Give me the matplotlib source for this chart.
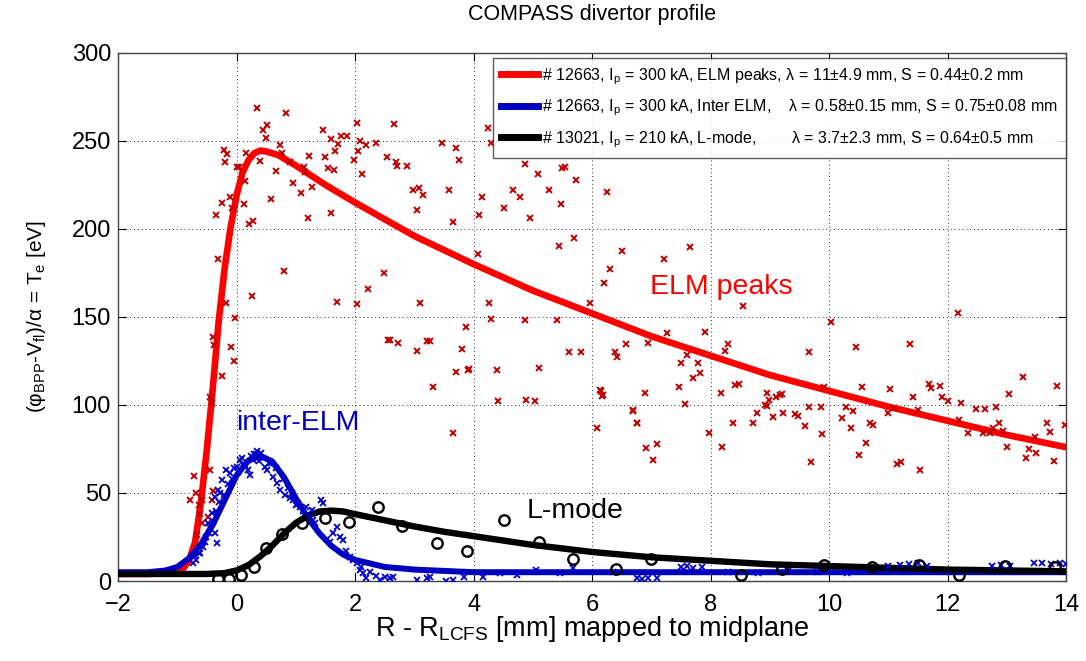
import matplotlib
matplotlib.use("Agg")
import matplotlib.pyplot as plt
import numpy as np

plt.rcParams['font.family'] = ['Liberation Sans', 'DejaVu Sans']
plt.rcParams['mathtext.default'] = 'regular'

# ---- fitted curves ----
red_x = [-2, -1.5, -1.0, -0.9, -0.8, -0.7, -0.6, -0.5, -0.4, -0.3, -0.2, -0.1, 0.0, 0.1, 0.2, 0.3,
         0.4, 0.5, 0.7, 1.0, 1.5, 2, 3, 4, 5, 6, 7, 8, 9, 10, 11, 12, 13, 14]
red_y = [4, 4, 5, 7, 12, 22, 45, 75, 110, 148, 178, 201, 219, 232, 239, 243,
         244.5, 244, 242, 236, 225, 215, 196, 180, 165, 152, 139, 128, 117, 108, 99, 91, 83, 76]

blue_x = [-2, -1.5, -1.2, -1.0, -0.8, -0.6, -0.4, -0.2, 0.0, 0.2, 0.4, 0.6, 0.8, 1.0, 1.2, 1.4,
          1.6, 1.8, 2.0, 2.5, 3.0, 4.0, 6.0, 8.0, 10.0, 12.0, 14.0]
blue_y = [5, 5, 6, 8, 13, 21, 32, 46, 60, 68.5, 71, 68, 59, 47, 36, 27,
          20, 15, 12, 8, 6.5, 5, 5, 5, 5, 5, 5]

black_x = [-2, -0.5, -0.2, 0.0, 0.2, 0.4, 0.6, 0.8, 1.0, 1.2, 1.4, 1.6, 1.8, 2.0, 2.5, 3.0,
           3.5, 4.0, 5.0, 6.0, 7.0, 8.0, 9.0, 10.0, 11.0, 12.0, 13.0, 14.0]
black_y = [4, 4, 4.5, 6, 9, 14, 20, 27, 33, 37, 39.5, 40, 39.5, 38, 34.5, 31,
           28, 25.5, 20.5, 16.5, 13.5, 11.5, 9.5, 8.5, 7.5, 6.5, 6, 5.5]

# ---- measured points ----
elm_x = [0.34, 0.83, 0.52, 0.45, 0.49, -0.21, -0.16, -0.20, 0.16, 0.00, 0.04, 0.40, 0.74, 0.77, 0.66,
         0.90, 0.15, -0.11, -0.25, -0.35, -0.08, 0.12, 0.21, 0.27, 0.58, 0.96, 1.09, 1.14, 1.16, 1.22,
         1.28, 1.20, 1.46, 1.59, 1.49, 1.55, 1.64, 1.66, 1.72, 1.77, 1.86, 1.60, 2.04, 2.09, 2.18,
         2.36, 2.05, 1.99, 2.12, 2.65, 2.54, 2.69, 2.70, 2.87, 2.98, 3.08, 3.15, 3.05, 3.47, 3.70,
         3.75, 3.59, 3.65, 4.25, 4.30, 4.15, 4.09, 4.07, 4.87, 5.09, 5.49, 5.54, 5.73, 5.28, 5.47,
         4.67, 4.79, 4.51, 4.95, 5.69, 5.44, 5.97, 4.26, 4.30, 4.86, 5.40, 5.61, 5.81, 5.11, 4.39,
         3.91, 3.93, 3.70, 3.81, 3.88, 3.10, 3.05, 3.22, 3.26, 2.72, 2.55, 2.59, 2.49, 2.21, 2.04,
         1.70, 0.80, 0.26, -0.03, -0.32, -0.17, -0.40, -0.38, -0.10, -0.05, -0.24,
         3.31, 3.66, 4.42, 4.89, 5.04, 6.15, 6.17, 6.09, 6.69, 6.75, -0.45, -0.42, -0.72, -0.45,
         -0.79, -0.68, -0.59, -0.63, -0.40, -0.42, -0.62, -0.59, -0.66, -0.48,
         6.26, 6.51, 6.31, 6.20, 7.22, 7.65, 8.54, 7.27, 7.91, 6.57, 6.95, 6.39, 6.42, 6.13, 6.18,
         6.89, 7.50, 7.60, 7.79, 7.82, 7.71, 7.47, 7.56, 6.69, 6.75, 6.91, 7.09, 7.03, 7.97, 8.30,
         8.25, 8.17, 8.41, 8.48, 8.20, 8.37, 8.95, 8.99, 9.10, 9.17, 9.20, 8.91, 8.95, 8.78, 8.72,
         9.06, 9.23, 9.42, 9.48, 9.60, 9.66, 9.66, 9.86, 9.70, 9.88, 9.91, 10.03, 10.22, 10.28,
         10.37, 10.41, 10.46, 10.56, 10.62, 10.51, 10.69, 10.74, 11.03, 11.00, 11.09, 11.15, 11.21,
         11.36, 11.41, 11.50, 11.54, 11.69, 11.72, 11.87, 11.91, 12.01, 12.17, 12.22, 12.20, 12.35,
         12.48, 12.63, 12.60, 12.71, 12.81, 12.87, 12.77, 12.94, 13.00, 13.04, 13.28, 13.33, 13.38,
         13.50, 13.47, 13.67, 13.72, 13.80, 13.84, 13.98]
elm_y = [268.5, 266, 259, 256, 251.5, 245, 242.6, 238, 243, 235, 235, 238.8, 247.7, 243, 233,
         238, 227, 218, 215, 208, 212, 214, 203, 204.5, 217, 226, 220.6, 235, 232.6, 241.5,
         224, 206, 256, 251, 241, 234.5, 233.5, 244.5, 248, 253, 253, 209, 260, 250, 247.7,
         249, 244, 239, 231, 259.5, 241, 238, 236, 236, 222, 223, 219, 211, 248.7, 246,
         239, 222, 204, 257.6, 249, 218, 208, 185.6, 237, 231, 234.5, 235, 228, 222, 214,
         222, 218, 211.7, 206, 195, 190.5, 158, 157.8, 148.9, 148.3, 148.3, 130, 130, 120.8, 120,
         120, 120.5, 118.6, 131.6, 144.5, 157.8, 130.7, 136.6, 136.6, 135, 137, 137, 175, 165.7, 157.4,
         158.3, 176, 162, 149.6, 182.8, 158, 138.4, 134, 132.8, 125, 116.7,
         110, 84, 102, 103, 102.5, 108, 105, 87, 96.8, 89.6, 104.7, 101, 59.7, 63,
         46, 50, 46, 43, 51, 46, 38, 33, 26, 36.5,
         221, 187.5, 177, 169.5, 183, 190, 156, 141, 141.7, 134.7, 135.4, 130, 127, 108.5, 105.7,
         107, 124, 128.4, 123.7, 118, 115.5, 110.4, 100.4, 97.2, 89.6, 75.4, 77.7, 69, 84.3, 134.5,
         130.7, 107, 111.4, 111.7, 76, 89.6, 107, 103, 104.7, 105.7, 106, 100, 99.4, 95.6, 90,
         93.4, 95.3, 94.7, 94, 88, 130, 99, 99, 67.4, 83.5, 110, 147, 92.4, 99,
         87, 96.6, 133, 110, 78.6, 71.4, 90, 88.6, 109, 95.3, 98, 66.5, 67.4,
         134.5, 104.5, 97, 63, 112, 109.5, 111, 104.7, 102, 152, 101, 91.5, 84,
         97.5, 97.5, 84, 84, 99, 90, 87, 85, 76, 106, 116, 70, 75,
         72.5, 81.6, 90, 84.7, 68, 111, 88.4]

inter_x = [0.34, 0.06, 0.11, 0.20, -0.17, -0.11, -0.25, -0.31, -0.37, -0.42, -0.48, -0.51, -0.37,
           -0.33, -0.56, -0.62, -0.68, 0.23, 0.48, 0.51, 0.62, 0.68, 0.73, 0.82, 0.96, 1.07, 1.18,
           1.27, 1.29, 1.43, 1.46, 1.69, 1.63, 1.74, 1.80, 1.91, 2.03, 2.08, 2.14, 2.19, 2.42, 2.59,
           2.64, 3.04, 3.21, 3.26, 3.54, 3.66, 3.83, 4.16, 4.44, 4.73, 5.06, 5.46, 5.68, 6.36,
           0.00, 0.10, 0.30, 0.45, 0.55, -0.05, 0.38, 0.28, -0.45, -0.28, 0.90, 1.00,
           -0.74, -0.70, -0.64, -0.58, -0.54, -0.46, -0.40, -0.35, -0.29, -0.22, -0.15, -0.08,
           0.02, 0.15, 0.25, 0.32, 0.42, 0.58, 0.66, 0.78, 0.86, 0.94, 1.03, 1.12, 1.22, 1.33,
           1.52, 1.58, 1.85, 1.97, 2.10, 2.25, 2.35, 2.50,
           6.75, 6.85, 6.95, 7.10, 7.50, 7.60, 7.70, 7.85, 8.30, 8.80, 9.30, 9.80, 10.30,
           11.00, 11.20, 11.35, 11.50, 11.65, 12.75, 12.90, 13.05, 13.45, 13.60, 13.75, 13.90, 14.00]
inter_y = [74.1, 68.8, 65.9, 63.1, 63.1, 61.2, 57.4, 51.7, 47.9, 38.4, 32.8, 25.2, 27.1,
           21.8, 19.5, 15.7, 11.9, 60.2, 65, 63.1, 59.3, 55.5, 51.7, 48.9, 46, 42.2, 42.2,
           40.3, 34.7, 46, 44.1, 30.9, 27.1, 25.2, 23.3, 13.8, 10, 6.25, 4.4, 1.5, 0.6, 1.5,
           2.1, 0.6, 1.5, 2.1, 0.0, 0.6, 2.5, 2.5, 4.4, 3.4, 6.25, 4.4, 7.2, 5.3,
           65, 70, 72, 70, 67, 64, 68, 69, 30, 50, 47, 43,
           10, 14, 16, 20, 22, 27, 34, 40, 45, 49, 55, 58,
           62, 66, 71, 72, 73, 67, 64, 58, 53, 50, 44, 40, 37, 33,
           24, 22, 17, 12, 8, 5, 3, 2,
           1.5, 1.2, 1.8, 1.5, 7.8, 8.3, 7.5, 8.0, 5.0, 4.5, 5.5, 5.0, 4.8,
           8.5, 9.0, 9.5, 10.0, 8.8, 8.5, 9.3, 8.8, 10.0, 10.5, 9.5, 10.5, 9.8]

lmode_x = [-0.31, -0.12, 0.08, 0.29, 0.49, 0.76, 1.10, 1.49, 1.90, 2.39, 2.80, 3.39, 3.89, 4.51,
           5.10, 5.68, 6.40, 6.99, 8.51, 9.20, 9.91, 10.72, 11.52, 12.20, 12.97, 13.81]
lmode_y = [1, 1, 3.4, 7.8, 19, 26.7, 32.8, 36, 33.7, 42.2, 31.4, 21.8, 17.2, 34.7,
           22, 12.5, 6.6, 12.3, 3.4, 6.6, 9.1, 7.8, 9.1, 3.4, 8.5, 7.8]

legend_labels = [
    "# 12663, I$_p$ = 300 kA, ELM peaks, \u03bb = 11\u00b14.9 mm, S = 0.44\u00b10.2 mm",
    "# 12663, I$_p$ = 300 kA, Inter ELM,    \u03bb = 0.58\u00b10.15 mm, S = 0.75\u00b10.08 mm",
    "# 13021, I$_p$ = 210 kA, L-mode,        \u03bb = 3.7\u00b12.3 mm, S = 0.64\u00b10.5 mm",
]
x_ticks = [-2, 0, 2, 4, 6, 8, 10, 12, 14]
y_ticks = [0, 50, 100, 150, 200, 250, 300]

fig = plt.figure(figsize=(10.86, 6.61), dpi=100)
ax = fig.add_axes([0.1087, 0.121, 0.873, 0.799])

l1, = ax.plot(red_x, red_y, color='#ff0000', lw=4.8, zorder=3)
l2, = ax.plot(blue_x, blue_y, color='#0000c0', lw=4.3, zorder=3.1)
l3, = ax.plot(black_x, black_y, color='black', lw=4.6, zorder=3.2)

ax.plot(elm_x, elm_y, 'x', color='#c00000', ms=4, mew=1.4, zorder=4, linestyle='none')
ax.plot(inter_x, inter_y, 'x', color='#0000cc', ms=4, mew=1.3, zorder=4, linestyle='none')
ax.plot(lmode_x, lmode_y, 'o', mfc='none', mec='black', ms=7.5, mew=1.7, zorder=4, linestyle='none')

ax.text(6.98, 167, 'ELM peaks', color='#ff0000', fontsize=20.5, va='center', ha='left')
ax.text(0.0, 90, 'inter-ELM', color='#0000c0', fontsize=20.5, va='center', ha='left')
ax.text(4.9, 40, 'L-mode', color='black', fontsize=20.5, va='center', ha='left')

ax.set_xlim(-2, 14)
ax.set_ylim(0, 300)
ax.set_xticks(x_ticks)
ax.set_yticks(y_ticks)
ax.tick_params(direction='in', top=True, right=True, labelsize=17, length=6)
ax.tick_params(axis='x', pad=9)
ax.tick_params(axis='y', pad=5)
ax.grid(True, linestyle=(0, (1, 3)), color='#333333', linewidth=0.7)
for s in ax.spines.values():
    s.set_color('#444444')
    s.set_linewidth(1.0)

ax.set_title('COMPASS divertor profile', fontsize=15.5, pad=24)
ax.set_xlabel('R - R$_{LCFS}$ [mm] mapped to midplane', fontsize=19.5, labelpad=-1)
ax.set_ylabel('(\u03c6$_{BPP}$-V$_{fl}$)/\u03b1 = T$_e$ [eV]', fontsize=15, labelpad=17)

leg = ax.legend([l1, l2, l3], legend_labels, loc='upper right', fontsize=11.5,
                handlelength=2.3, handletextpad=0.28, labelspacing=0.68,
                frameon=True, fancybox=False, edgecolor='#333333', borderpad=0.5,
                borderaxespad=0, bbox_to_anchor=(1.0, 0.99))
leg.get_frame().set_linewidth(1.0)
for h in leg.get_lines():
    h.set_linewidth(5)

fig.savefig('out.png', dpi=100)
